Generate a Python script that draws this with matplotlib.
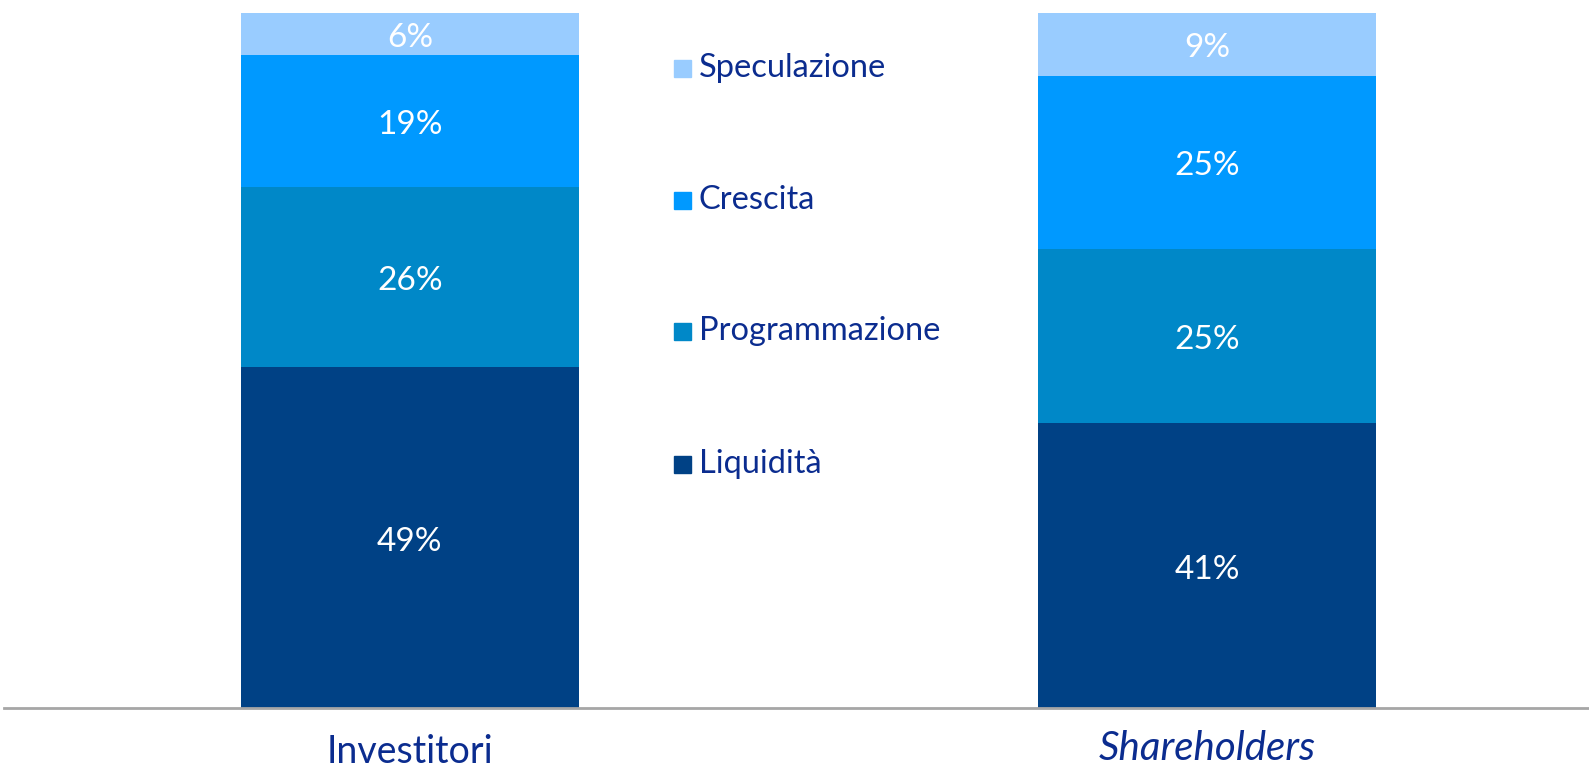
import matplotlib
matplotlib.use("Agg")
import matplotlib.pyplot as plt
from matplotlib.patches import Rectangle
from matplotlib.transforms import offset_copy

categories = ["Investitori", "Shareholders"]
segments = ["Liquidità", "Programmazione", "Crescita", "Speculazione"]
liquidita = [49, 41]
programmazione = [26, 25]
crescita = [19, 25]
speculazione = [6, 9]
values = [liquidita, programmazione, crescita, speculazione]
colors = ["#004185", "#0088C8", "#0099FF", "#99CCFF"]

TEXT_BLUE = "#0B2C8F"
plt.rcParams["font.family"] = ["Lato", "DejaVu Sans"]

W, H = 1589, 769
fig = plt.figure(figsize=(W / 100, H / 100), dpi=100)
ax = fig.add_axes([4 / W, 1 - 708 / H, 1 - 4 / W, (708 - 13) / H])

lbl_tr = offset_copy(ax.transData, fig=fig, x=0, y=-4, units="dots")

x = [0, 1]
bottom = [0, 0]
for seg, vals, col in zip(segments, values, colors):
    ax.bar(x, vals, bottom=bottom, width=0.424, color=col, edgecolor="none", label=seg)
    for xi, b, v in zip(x, bottom, vals):
        ax.text(xi, b + v / 2, f"{v}%", ha="center", va="center",
                color="white", fontsize=24, transform=lbl_tr)
    bottom = [b + v for b, v in zip(bottom, vals)]

ax.set_xlim(-0.509, 1.479)
ax.set_ylim(0, 100)
for s in ["top", "left", "right"]:
    ax.spines[s].set_visible(False)
ax.spines["bottom"].set_color("#A6A6A6")
ax.spines["bottom"].set_linewidth(2)
ax.set_yticks([])
ax.set_xticks([])

# category labels
ax.text(0, -6.3, categories[0], ha="center", va="center", color=TEXT_BLUE,
        fontsize=27, clip_on=False)
ax.text(1, -5.8, categories[1], ha="center", va="center", color=TEXT_BLUE,
        fontsize=29, style="italic", clip_on=False)

# legend (top to bottom)
leg_y = [68, 200, 331, 464]
for seg, col, yy in zip(segments[::-1], colors[::-1], leg_y):
    fig.patches.append(Rectangle((674 / W, 1 - (yy + 9) / H), 17 / W, 17 / H,
                                 transform=fig.transFigure, color=col))
    fig.text(699 / W, 1 - yy / H, seg, ha="left", va="center",
             color=TEXT_BLUE, fontsize=23.5)

fig.savefig("out.png", dpi=100)
